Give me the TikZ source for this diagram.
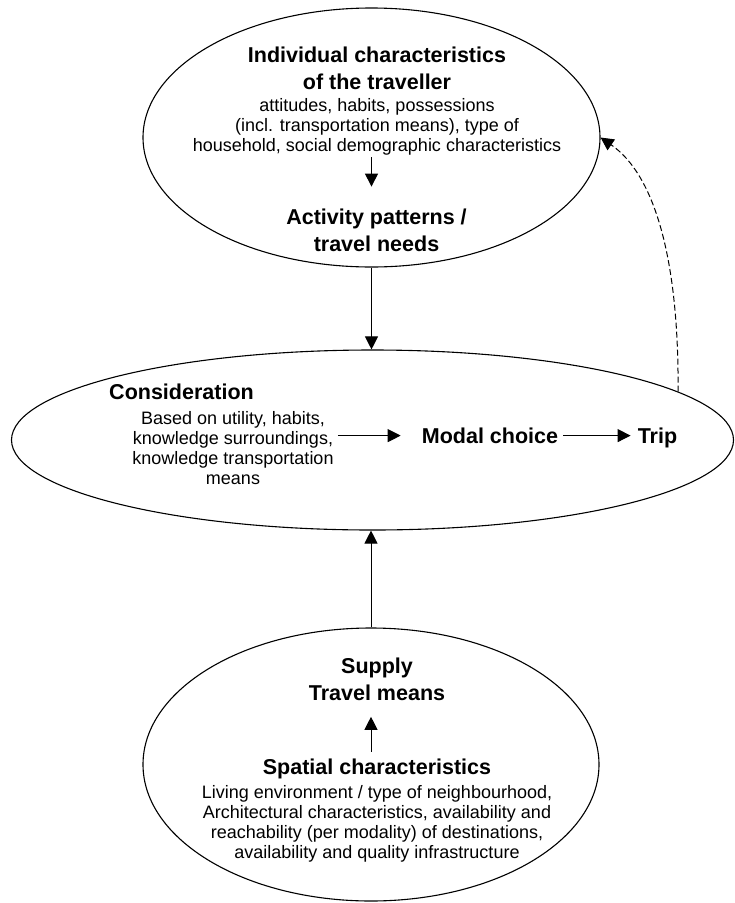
\documentclass[tikz,border=0pt]{standalone}
\usepackage{fontspec}
\setmainfont{Liberation Sans}
\usepackage{tikz}
\usetikzlibrary{shapes.geometric, arrows.meta, positioning, calc}
\tikzset{
  sphere/.style={
    ellipse, draw=black, line width=1.1pt, inner sep=0pt
  },
  headtext/.style={
    font=\fontsize{21.5}{27}\selectfont\bfseries, align=center, inner sep=0pt
  },
  bodytext/.style={
    font=\fontsize{18}{20}\selectfont, align=center, inner sep=0pt
  },
  flowline/.style={
    draw=black, -{Triangle[length=13pt, width=13pt]}, line width=1pt
  },
  dashedflow/.style={
    flowline, dash pattern=on 6pt off 3pt
  }
}

\begin{document}
\begin{tikzpicture}[x=1pt, y=-1pt]
  \fill[white] (0,0) rectangle (735,903);

  % Three big ellipses
  \node[sphere, minimum width=457pt, minimum height=259pt] (traveller) at (371.5,137.5) {};
  \node[sphere, minimum width=722pt, minimum height=180pt] (consideration) at (372.5,440) {};
  \node[sphere, minimum width=456pt, minimum height=273pt] (supply) at (371,764.5) {};

  % Top: the traveller
  \node[headtext] (travhead) at (377,68.2) {Individual characteristics\\of the traveller};
  \node[bodytext] (travbody) at (377,126.7) {attitudes, habits, possessions\\(incl. transportation means), type of\\household, social demographic characteristics};
  \node[headtext] (activity) at (376.5,230.2) {Activity patterns /\\travel needs};

  % Middle: consideration and choice
  \node[headtext] (conshead) at (181.5,391.7) {Consideration};
  \node[bodytext] (consbody) at (233,447.8) {Based on utility, habits,\\knowledge surroundings,\\knowledge transportation\\means};
  \node[headtext] (modal) at (490,435.6) {Modal choice};
  \node[headtext] (trip) at (657.5,438) {Trip};

  % Bottom: supply
  \node[headtext] (supplyhead) at (377,679.7) {Supply\\Travel means};
  \node[headtext] (spatialhead) at (377,768.9) {Spatial characteristics};
  \node[bodytext] (spatialbody) at (377,823.7) {Living environment / type of neighbourhood,\\Architectural characteristics, availability and\\reachability (per modality) of destinations,\\availability and quality infrastructure};

  % Flows inside the ellipses
  \draw[flowline, shorten <=2pt, shorten >=22pt] (travbody.south -| traveller.center) -- (activity.north -| traveller.center);
  \draw[flowline, shorten <=4pt, shorten >=21pt] (consbody.east |- modal.west) -- (modal.west);
  \draw[flowline, shorten <=5pt, shorten >=7pt] (modal.east) -- (modal.east -| trip.west);
  \draw[flowline, shorten <=7pt, shorten >=15.5pt] (spatialhead.north -| supply.center) -- (supplyhead.south -| supply.center);

  % Flows between the ellipses
  \draw[flowline] (traveller.south) -- (traveller.south |- consideration.north);
  \draw[flowline] (supply.north) -- (supply.north |- consideration.south);
  \draw[dashedflow] (consideration.9.3) .. controls (679,260) and (655,175) .. (traveller.east);
\end{tikzpicture}
\end{document}
